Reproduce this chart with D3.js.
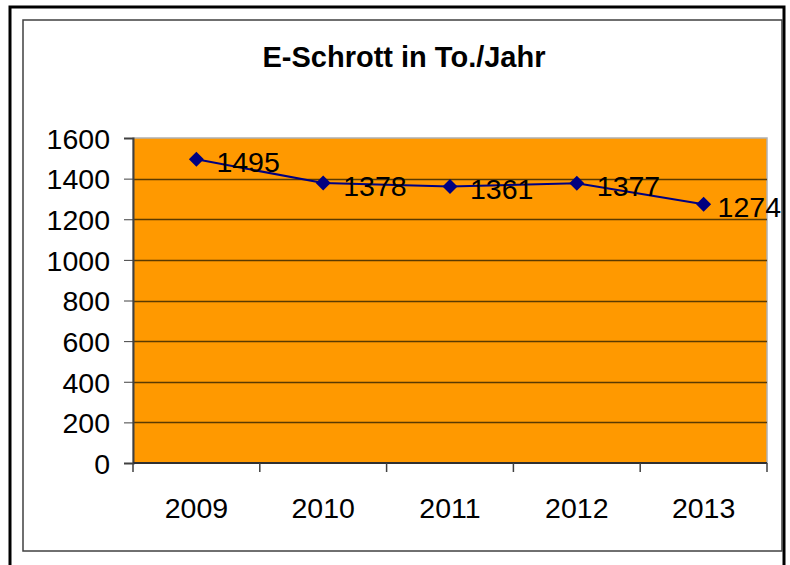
<html>
<head>
<meta charset="UTF-8">
<title>E-Schrott</title>
<script src="https://d3js.org/d3.v7.min.js"></script>
<style>
body { margin:0; background:white; }
</style>
</head>
<body>
<svg width="790" height="565"></svg>
<script>
// data
var years = ["2009", "2010", "2011", "2012", "2013"];
var tonnes = [1495, 1378, 1361, 1377, 1274];
var yTicks = [0, 200, 400, 600, 800, 1000, 1200, 1400, 1600];
var title = "E-Schrott in To./Jahr";

var svg = d3.select("svg");
var font = '"Liberation Sans", Arial, sans-serif';

// outer frame (page border) and chart area border
svg.append("path")
  .attr("d", "M10,566 L10,7 L784,7 L784,566")
  .style("fill", "none").style("stroke", "black").style("stroke-width", 3);
svg.append("rect")
  .attr("x", 23).attr("y", 20).attr("width", 759).attr("height", 531)
  .style("fill", "white").style("stroke", "#404040").style("stroke-width", 1.5);

var plot = {left: 133, top: 138, right: 767, bottom: 463};

var x = d3.scaleBand().domain(years).range([plot.left, plot.right]);
var y = d3.scaleLinear().domain([0, 1600]).range([plot.bottom, plot.top]);

// plot background
svg.append("rect")
  .attr("x", plot.left).attr("y", plot.top)
  .attr("width", plot.right - plot.left).attr("height", plot.bottom - plot.top)
  .style("fill", "#ff9900").style("stroke", "#b0b0b0").style("stroke-width", 1.5);

// gridlines
svg.append("g").selectAll("line").data(yTicks.filter(function(d){ return d > 0 && d < 1600; }))
  .enter().append("line")
  .attr("x1", plot.left).attr("x2", plot.right)
  .attr("y1", function(d){ return Math.round(y(d)) + 0.5; })
  .attr("y2", function(d){ return Math.round(y(d)) + 0.5; })
  .style("stroke", "#5a3a00").style("stroke-width", 1.4);

// y axis
var yAxis = d3.axisLeft(y).tickValues(yTicks).tickSize(9).tickPadding(14).tickFormat(d3.format("d"));
var gy = svg.append("g").attr("transform", "translate(" + plot.left + ",0)").call(yAxis);
gy.select(".domain").style("stroke", "#404040").style("stroke-width", 2);
gy.selectAll(".tick line").style("stroke", "#404040");
gy.selectAll("text").style("font-family", font).style("font-size", "28.5px").style("fill", "black")
  .attr("dy", "0.36em");

// x axis, ticks on category boundaries
var gx = svg.append("g").attr("transform", "translate(0," + plot.bottom + ")");
gx.append("line").attr("x1", plot.left).attr("x2", plot.right)
  .style("stroke", "#303030").style("stroke-width", 2);
var bounds = years.map(function(d){ return x(d); }).concat([plot.right]);
gx.selectAll(".tk").data(bounds).enter().append("line")
  .attr("x1", function(d){ return d; }).attr("x2", function(d){ return d; })
  .attr("y1", 0).attr("y2", 9)
  .style("stroke", "#404040").style("stroke-width", 1.5);
gx.selectAll("text").data(years).enter().append("text")
  .attr("x", function(d){ return x(d) + x.bandwidth() / 2; })
  .attr("y", 55)
  .attr("text-anchor", "middle")
  .style("font-family", font).style("font-size", "28.5px")
  .text(function(d){ return d; });

// title
svg.append("text")
  .attr("x", 404).attr("y", 67)
  .attr("text-anchor", "middle")
  .style("font-family", font).style("font-size", "29px").style("font-weight", "bold")
  .text(title);

// series line
var pts = years.map(function(d, i){ return [x(d) + x.bandwidth() / 2, y(tonnes[i])]; });
svg.append("path")
  .attr("d", d3.line()(pts))
  .style("fill", "none").style("stroke", "#000080").style("stroke-width", 2);

// diamond markers
svg.append("g").selectAll("path").data(pts).enter().append("path")
  .attr("d", "M0,-7.5 L7.5,0 L0,7.5 L-7.5,0 Z")
  .attr("transform", function(d){ return "translate(" + d[0] + "," + d[1] + ")"; })
  .style("fill", "#000080");

// data labels, kept inside the chart area
var labels = svg.append("g").selectAll("text").data(tonnes).enter().append("text")
  .attr("y", function(d, i){ return pts[i][1] + 12.5; })
  .style("font-family", font).style("font-size", "28.5px").style("fill", "black")
  .text(function(d){ return d; });
labels.attr("x", function(d, i){
  var w = this.getComputedTextLength();
  return Math.min(pts[i][0] + 20, 781 - w);
});
</script>
</body>
</html>
